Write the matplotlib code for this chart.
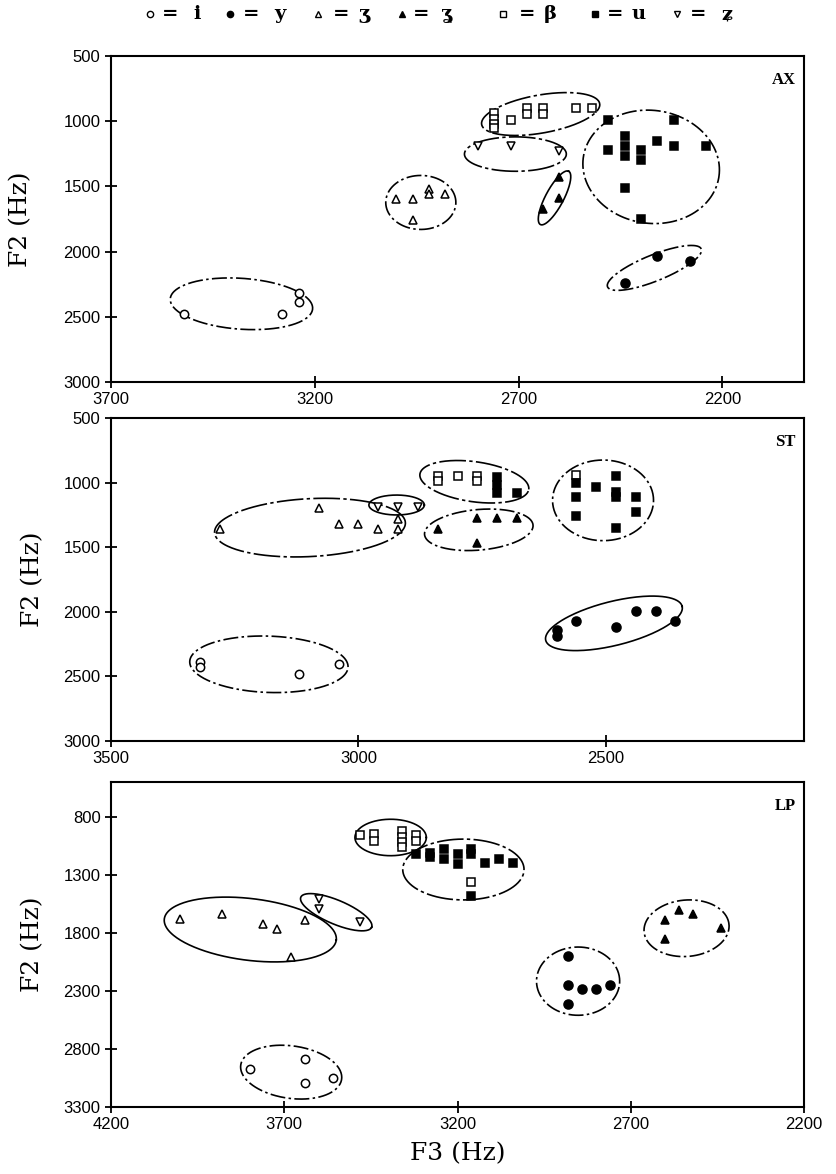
import numpy as np
import matplotlib
matplotlib.use("Agg")
import matplotlib.pyplot as plt

plt.rcParams['font.family'] = ['Liberation Sans', 'DejaVu Sans']

# (F3, F2) pairs, one list per speaker and vowel
AX_i = [(3520, 2480), (3280, 2480), (3240, 2320), (3240, 2390)]
AX_y = [(2440, 2240), (2360, 2030), (2280, 2070)]
AX_zh = [(3000, 1600), (2960, 1600), (2960, 1760), (2920, 1520), (2920, 1560), (2880, 1560)]
AX_zhc = [(2600, 1430), (2600, 1590), (2640, 1670)]
AX_beta = [(2760, 940), (2760, 980), (2760, 1020), (2760, 1050), (2720, 990), (2680, 900),
           (2680, 945), (2640, 900), (2640, 945), (2560, 900), (2520, 900)]
AX_u = [(2480, 990), (2320, 990), (2440, 1110), (2440, 1190), (2440, 1270), (2480, 1220),
        (2400, 1220), (2400, 1300), (2360, 1150), (2320, 1190), (2240, 1190), (2440, 1510),
        (2400, 1750)]
AX_zc = [(2800, 1190), (2720, 1190), (2600, 1230)]

ST_i = [(3320, 2390), (3320, 2430), (3120, 2480), (3040, 2400)]
ST_y = [(2600, 2140), (2600, 2190), (2560, 2070), (2480, 2115), (2440, 1990), (2400, 1990), (2360, 2070)]
ST_zh = [(3280, 1360), (3080, 1200), (3040, 1320), (3000, 1320), (2960, 1360), (2920, 1280), (2920, 1360)]
ST_zhc = [(2840, 1360), (2760, 1270), (2720, 1270), (2680, 1270), (2760, 1470)]
ST_beta = [(2840, 950), (2840, 990), (2800, 950), (2760, 950), (2760, 990), (2560, 940)]
ST_u = [(2720, 960), (2720, 1020), (2720, 1080), (2680, 1080), (2560, 1000), (2560, 1110),
        (2560, 1260), (2520, 1030), (2480, 950), (2480, 1070), (2480, 1110), (2440, 1110),
        (2440, 1230), (2480, 1350)]
ST_zc = [(2960, 1190), (2920, 1190), (2880, 1190)]

LP_i = [(3800, 2970), (3640, 2890), (3640, 3090), (3560, 3050)]
LP_y = [(2880, 2000), (2880, 2250), (2880, 2410), (2840, 2280), (2800, 2280), (2760, 2250)]
LP_zh = [(4000, 1680), (3880, 1640), (3760, 1720), (3720, 1770), (3640, 1690), (3680, 2010)]
LP_zhc = [(2600, 1690), (2560, 1600), (2520, 1640), (2440, 1760), (2600, 1850)]
LP_beta = [(3480, 960), (3440, 950), (3440, 1010), (3360, 920), (3360, 970), (3360, 1020),
           (3360, 1060), (3320, 960), (3320, 1010), (3160, 1360)]
LP_u = [(3320, 1120), (3280, 1110), (3280, 1150), (3240, 1080), (3240, 1160), (3200, 1120),
        (3200, 1210), (3160, 1080), (3160, 1120), (3120, 1200), (3080, 1160), (3040, 1200),
        (3160, 1480)]
LP_zc = [(3600, 1510), (3600, 1590), (3480, 1710)]

speakers = ["AX", "ST", "LP"]
x_ticks = [[3700, 3200, 2700, 2200], [3500, 3000, 2500], [4200, 3700, 3200, 2700, 2200]]
y_ticks = [[500, 1000, 1500, 2000, 2500, 3000], [500, 1000, 1500, 2000, 2500, 3000],
           [800, 1300, 1800, 2300, 2800, 3300]]
x_lims = [(3700, 2000), (3500, 2100), (4200, 2200)]
y_lims = [(3000, 500), (3000, 500), (3300, 500)]

# vowel -> (marker, filled, size)
styles = {
    "i": ("o", False, 6), "y": ("o", True, 6.5), "zh": ("^", False, 5.5), "zhc": ("^", True, 6),
    "beta": ("s", False, 5.5), "u": ("s", True, 6), "zc": ("v", False, 5.5),
}
panel_data = [
    {"i": AX_i, "y": AX_y, "zh": AX_zh, "zhc": AX_zhc, "beta": AX_beta, "u": AX_u, "zc": AX_zc},
    {"i": ST_i, "y": ST_y, "zh": ST_zh, "zhc": ST_zhc, "beta": ST_beta, "u": ST_u, "zc": ST_zc},
    {"i": LP_i, "y": LP_y, "zh": LP_zh, "zhc": LP_zhc, "beta": LP_beta, "u": LP_u, "zc": LP_zc},
]

# cluster rings: centre F3, centre F2, half axes (Hz), screen angle, line style
DD = (0, (9, 2, 1.5, 2))
LD = (0, (16, 2, 2, 2))
rings = [
    [(3380, 2400, 175, 195, -4, DD), (2940, 1623, 86, 207, 0, DD), (2646, 945, 147, 146, 10, LD),
     (2708, 1252, 125, 132, 0, LD), (2612, 1588, 74, 69, 62, '-'), (2375, 1350, 168, 433, -8, DD),
     (2367, 2125, 124, 100, 22, DD)],
    [(3181, 2406, 160, 218, -2, DD), (3098, 1348, 193, 224, 3, LD), (2923, 1173, 56, 77, 0, '-'),
     (2766, 993, 111, 155, -8, LD), (2757, 1365, 110, 157, 5, DD), (2506, 1137, 102, 312, 0, DD),
     (2484, 2089, 142, 170, 14, '-')],
    [(3798, 1771, 250, 266, -7, '-'), (3550, 1622, 111, 103, -23, '-'), (3680, 3000, 147, 226, -8, DD),
     (3393, 978, 103, 157, 0, '-'), (3183, 1254, 175, 262, 0, LD), (2852, 2216, 120, 294, 0, DD),
     (2539, 1760, 123, 243, 5, DD)],
]

FW, FH = 8.37, 11.74
fig = plt.figure(figsize=(FW, FH), dpi=100)
boxes = [[0.1326, 0.6746, 0.828, 0.2777], [0.1326, 0.3688, 0.828, 0.2751], [0.1326, 0.0571, 0.828, 0.2768]]


def ring(ax, cx, cy, a, b, ang, ls):
    x0, x1 = ax.get_xlim()
    y0, y1 = ax.get_ylim()
    bb = ax.get_position()
    kx = bb.width * FW / abs(x1 - x0)
    ky = bb.height * FH / abs(y1 - y0)
    t = np.linspace(0, 2 * np.pi, 240)
    u = a * kx * np.cos(t)
    v = b * ky * np.sin(t)
    th = np.radians(ang)
    du = u * np.cos(th) - v * np.sin(th)
    dv = u * np.sin(th) + v * np.cos(th)
    ax.plot(cx - du / kx, cy - dv / ky, color='black', lw=1.2, linestyle=ls, zorder=2)


for k in range(3):
    ax = fig.add_axes(boxes[k])
    ax.set_xlim(*x_lims[k])
    ax.set_ylim(*y_lims[k])
    ax.set_xticks(x_ticks[k])
    ax.set_yticks(y_ticks[k])
    ax.tick_params(direction='inout', length=9, width=1.3, labelsize=12, pad=3)
    for sp in ax.spines.values():
        sp.set_linewidth(1.5)
    for key, pts in panel_data[k].items():
        mk, filled, ms = styles[key]
        f3 = [p[0] for p in pts]
        f2 = [p[1] for p in pts]
        ax.plot(f3, f2, linestyle='none', marker=mk, ms=ms, mew=1.1, color='black',
                mfc='black' if filled else 'white', zorder=3)
    for r in rings[k]:
        ring(ax, *r)
    ax.text(0.988, 0.95, speakers[k], transform=ax.transAxes, ha='right', va='top',
            fontsize=12, fontweight='bold', family=['Liberation Serif'])
    ax.set_ylabel("F2 (Hz)", family=['DejaVu Serif'], fontsize=18)
    ax.yaxis.set_label_coords(-0.113 if k == 0 else -0.097, 0.5)
    if k == 2:
        ax.set_xlabel("F3 (Hz)", family=['DejaVu Serif'], fontsize=18, labelpad=7)

# key at the top of the page
leg = fig.add_axes([0, 0.974, 1, 0.026])
leg.set_xlim(0, 837)
leg.set_ylim(0, 30)
leg.axis('off')
key_items = [("o", False, 150, 170, 197, "i"), ("o", True, 230, 251, 280, "y"),
             ("^", False, 318, 341, 364, "ʒ"), ("^", True, 402, 421, 447, "ʓ"),
             ("s", False, 503, 527, 550, "β"), ("s", True, 595, 615, 639, "u"),
             ("v", False, 677, 698, 727, "ʑ")]
for mk, filled, xm, xe, xl, lab in key_items:
    leg.plot([xm], [16], marker=mk, ms=4.5, mew=1.0, color='black',
             mfc='black' if filled else 'white', linestyle='none')
    leg.text(xe, 16, "=", ha='center', va='center', fontsize=14, fontweight='bold',
             family=['DejaVu Serif'])
    leg.text(xl, 16, lab, ha='center', va='center', fontsize=14, fontweight='bold',
             family=['DejaVu Serif', 'DejaVu Sans'])

fig.savefig("out.png", dpi=100)
